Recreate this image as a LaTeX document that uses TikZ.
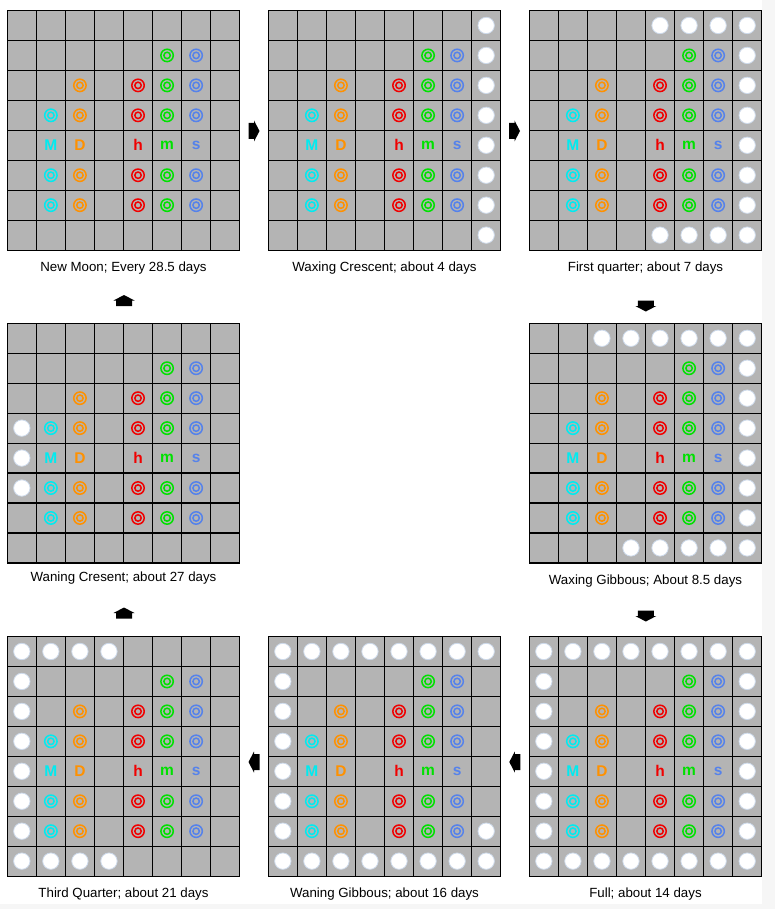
\documentclass[tikz,border=0pt]{standalone}
\usepackage{fontspec}
\setmainfont{Liberation Sans}
\definecolor{cellgray}{RGB}{180,180,180}
\definecolor{mcyan}{RGB}{0,235,240}
\definecolor{morange}{RGB}{255,145,0}
\definecolor{mred}{RGB}{240,0,0}
\definecolor{mgreen}{RGB}{0,225,0}
\definecolor{mblue}{RGB}{85,130,235}
\definecolor{moonedge}{RGB}{205,218,235}
\definecolor{stripe}{RGB}{246,246,246}
\tikzset{
  gridline/.style={draw=black, line width=1.2pt},
  bullring/.style={line width=1.5pt},
  moondisc/.style={fill=white, draw=moonedge, line width=0.8pt},
  lab/.style={font=\fontsize{13.3}{15}\selectfont, text=black, inner sep=0pt},
  letter/.style={font=\fontsize{15.5}{18}\selectfont\bfseries, inner sep=0pt},
  arrowmark/.style={fill=black}
}
\newcommand\bulllist{5/1/mgreen, 6/1/mblue,
 2/2/morange, 4/2/mred, 5/2/mgreen, 6/2/mblue,
 1/3/mcyan, 2/3/morange, 4/3/mred, 5/3/mgreen, 6/3/mblue,
 1/5/mcyan, 2/5/morange, 4/5/mred, 5/5/mgreen, 6/5/mblue,
 1/6/mcyan, 2/6/morange, 4/6/mred, 5/6/mgreen, 6/6/mblue}
% #1 name, #2 x, #3 y, #4 label text, #5 label baseline offset
\newcommand\moonpanel[5]{%
 \begin{scope}[shift={(#2,#3)}]
  \fill[cellgray] (0,0) rectangle (232.4,239.6);
  \foreach \k in {0,...,8}{
    \draw[gridline] ({\k*29.05},0) -- ({\k*29.05},239.6);
    \draw[gridline] (0,{\k*29.95}) -- (232.4,{\k*29.95});
  }
  \foreach \c/\r/\col in \bulllist{
    \draw[\col,bullring] ({(\c+0.5)*29.05},{(\r+0.5)*29.95}) circle[radius=6.2] circle[radius=3.2];
  }
  \foreach \c/\t/\col in {1/M/mcyan,2/D/morange,4/h/mred,5/m/mgreen,6/s/mblue}{
    \node[letter,text=\col] (#1-\t) at ({(\c+0.5)*29.05},{4.5*29.95}) {\t};
  }
  \node[lab,anchor=base] (#1-label) at (116.2,#5) {#4};
 \end{scope}}
% #1 x, #2 y, #3 list of col/row
\newcommand\moondiscs[3]{%
 \begin{scope}[shift={(#1,#2)}]
  \foreach \c/\r in {#3}{
    \filldraw[moondisc] ({(\c+0.5)*29.05},{(\r+0.5)*29.95}) circle[radius=8.2];
  }
 \end{scope}}
% #1 x, #2 y, #3 rotation
\newcommand\phasearrow[3]{%
 \fill[arrowmark,shift={(#1,#2)},rotate=#3] (-5.5,-8) -- (0,-8) -- (0,-10.5) -- (5.5,0) -- (0,10.5) -- (0,8) -- (-5.5,8) -- cycle;}

\begin{document}
\begin{tikzpicture}[x=1pt,y=-1pt]
\useasboundingbox (0,0) rectangle (775,909);
\fill[white] (0,0) rectangle (775,909);
\fill[stripe] (762,0) rectangle (775,909);
\fill[stripe] (0,904) rectangle (775,909);

% row 1
\moonpanel{new}{7.3}{10.5}{New Moon; Every 28.5 days}{261.2}
\moonpanel{wxc}{268.3}{10.5}{Waxing Crescent; about 4 days}{261.2}
\moondiscs{268.3}{10.5}{7/0,7/1,7/2,7/3,7/4,7/5,7/6,7/7}
\moonpanel{fq}{529.3}{10.5}{First quarter; about 7 days}{261.2}
\moondiscs{529.3}{10.5}{4/0,5/0,6/0,7/0,7/1,7/2,7/3,7/4,7/5,7/6,4/7,5/7,6/7,7/7}

% row 2
\moonpanel{wnc}{7.3}{323.3}{Waning Cresent; about 27 days}{258.4}
\moondiscs{7.3}{323.3}{0/3,0/4,0/5}
\moonpanel{wxg}{529.3}{323.3}{Waxing Gibbous; About 8.5 days}{261.4}
\moondiscs{529.3}{323.3}{2/0,3/0,4/0,5/0,6/0,7/0,7/1,7/2,7/3,7/4,7/5,7/6,3/7,4/7,5/7,6/7,7/7}

% row 3
\moonpanel{tq}{7.3}{636.5}{Third Quarter; about 21 days}{261.2}
\moondiscs{7.3}{636.5}{0/0,1/0,2/0,3/0,0/1,0/2,0/3,0/4,0/5,0/6,0/7,1/7,2/7,3/7}
\moonpanel{wng}{268.3}{636.5}{Waning Gibbous; about 16 days}{261.2}
\moondiscs{268.3}{636.5}{0/0,1/0,2/0,3/0,4/0,5/0,6/0,7/0,0/1,0/2,0/3,0/4,0/5,0/6,7/6,0/7,1/7,2/7,3/7,4/7,5/7,6/7,7/7}
\moonpanel{full}{529.3}{636.5}{Full; about 14 days}{261.2}
\moondiscs{529.3}{636.5}{0/0,1/0,2/0,3/0,4/0,5/0,6/0,7/0,0/1,0/2,0/3,0/4,0/5,0/6,7/1,7/2,7/3,7/4,7/5,7/6,0/7,1/7,2/7,3/7,4/7,5/7,6/7,7/7}

% arrows
\phasearrow{254}{131}{0}
\phasearrow{514.5}{131}{0}
\phasearrow{645.8}{306}{-90}
\phasearrow{645.8}{616}{-90}
\phasearrow{514.8}{762}{180}
\phasearrow{254}{762}{180}
\phasearrow{124}{613}{90}
\phasearrow{124}{300.5}{90}
\end{tikzpicture}
\end{document}
